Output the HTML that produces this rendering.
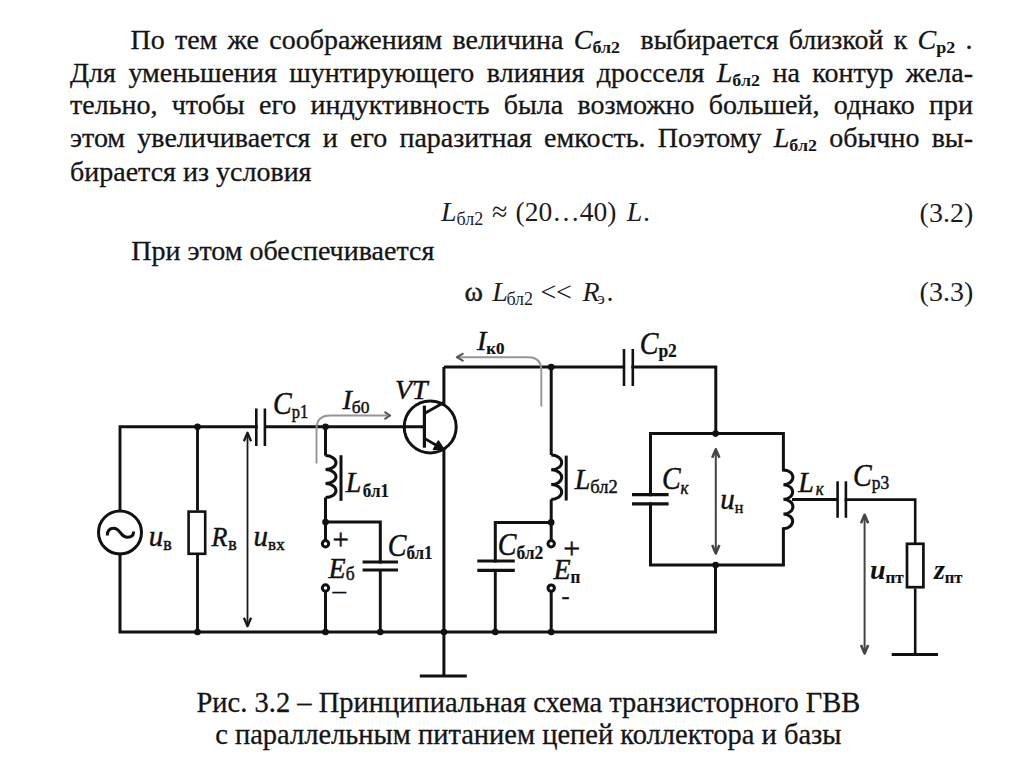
<!DOCTYPE html>
<html><head><meta charset="utf-8">
<style>
html,body{margin:0;padding:0;background:#fff;}
body{width:1024px;height:767px;position:relative;overflow:hidden;font-family:"Liberation Serif",serif;color:#151515;}
.l{position:absolute;white-space:nowrap;-webkit-text-stroke:0.3px #151515;}
.j{text-align:justify;text-align-last:justify;white-space:normal;}
i{font-style:italic;}
sub{font-size:18px;vertical-align:-4px;line-height:0;font-style:normal;font-weight:bold;-webkit-text-stroke:0;}
sub.e{font-size:17px;vertical-align:-5px;}
svg{position:absolute;left:0;top:0;}
</style></head><body>
<div class="l j" style="left:130.5px;top:25.95px;width:842px;font-size:28px;line-height:28px;transform-origin:0 23.45px;transform:scaleY(0.98)">По тем же соображениям величина <i>C</i><sub>бл2</sub> &nbsp;выбирается близкой к <i>C</i><sub>р2</sub> .</div>
<div class="l j" style="left:70px;top:58.85px;width:903px;font-size:28px;line-height:28px;transform-origin:0 23.45px;transform:scaleY(0.98)">Для уменьшения шунтирующего влияния дросселя <i>L</i><sub>бл2</sub> на контур жела-</div>
<div class="l j" style="left:70px;top:91.15px;width:903px;font-size:28px;line-height:28px;transform-origin:0 23.45px;transform:scaleY(0.98)">тельно, чтобы его индуктивность была возможно большей, однако при</div>
<div class="l j" style="left:70px;top:124.45px;width:903px;font-size:28px;line-height:28px;transform-origin:0 23.45px;transform:scaleY(0.98)">этом увеличивается и его паразитная емкость. Поэтому <i>L</i><sub>бл2</sub> обычно вы-</div>
<div class="l" style="left:70px;top:157.55px;font-size:28px;line-height:28px;transform-origin:0 23.45px;transform:scaleY(0.98)">бирается из условия</div>
<div class="l" style="left:131.2px;top:236.65px;font-size:28px;line-height:28px;transform-origin:0 23.45px;transform:scaleY(0.98)">При этом обеспечивается</div>
<div class="l" style="left:196.5px;top:688.93px;font-size:28.5px;line-height:28.5px;transform-origin:0 23.87px;transform:scaleY(1.0)">Рис. 3.2 – Принципиальная схема транзисторного ГВВ</div>
<div class="l" style="left:215.2px;top:720.73px;font-size:28.5px;line-height:28.5px;transform-origin:0 23.87px;transform:scaleY(1.0)">с параллельным питанием цепей коллектора и базы</div>
<svg width="1024" height="767" viewBox="0 0 1024 767" font-family="Liberation Serif" fill="#111"><polyline points="256.3,426.7 120,426.7 120,510.5" fill="none" stroke="#111" stroke-width="2.9" stroke-linejoin="miter" stroke-linecap="square"/>
<circle cx="120" cy="532.4" r="21.5" fill="none" stroke="#111" stroke-width="3"/>
<path d="M107.3,535.5 C107.3,529.5 110.8,528.2 113.8,528.2 C117.5,528.2 119,531 121,533.5 C123,536 125,537.3 127.5,537.3 C131,537.3 133.6,535.5 133.6,531.5" fill="none" stroke="#111" stroke-width="3"/>
<polyline points="120,554.2 120,632 715.5,632 715.5,565" fill="none" stroke="#111" stroke-width="3" stroke-linejoin="miter" stroke-linecap="square"/>
<line x1="197.5" y1="426.7" x2="197.5" y2="510.5" stroke="#111" stroke-width="2.9"/>
<rect x="188.6" y="511.6" width="16.6" height="42.2" fill="none" stroke="#111" stroke-width="2.6"/>
<line x1="197.5" y1="554.8" x2="197.5" y2="632" stroke="#111" stroke-width="2.9"/>
<circle cx="197.5" cy="426.7" r="3.3" fill="#111"/>
<circle cx="197.5" cy="632" r="3.3" fill="#111"/>
<line x1="256.3" y1="408.5" x2="256.3" y2="446" stroke="#111" stroke-width="2.6"/>
<line x1="264.9" y1="408.5" x2="264.9" y2="446" stroke="#111" stroke-width="2.6"/>
<line x1="264.9" y1="426.7" x2="424" y2="426.7" stroke="#111" stroke-width="2.9"/>
<line x1="247.5" y1="433.8" x2="247.5" y2="625.2" stroke="#1a1a1a" stroke-width="1.8"/><polyline points="243.9,441.3 247.5,432.8 251.1,441.3" fill="none" stroke="#1a1a1a" stroke-width="2.3" stroke-linejoin="round"/><polyline points="243.9,617.7 247.5,626.2 251.1,617.7" fill="none" stroke="#1a1a1a" stroke-width="2.3" stroke-linejoin="round"/>
<line x1="325.5" y1="426.7" x2="325.5" y2="455.6" stroke="#111" stroke-width="3"/>
<path d="M325.5,455.6 A10.5,7.0 0 0 1 325.5,469.60 A10.5,7.0 0 0 1 325.5,483.60 A10.5,7.0 0 0 1 325.5,497.60" fill="none" stroke="#111" stroke-width="3"/>
<line x1="325.5" y1="497.6" x2="325.5" y2="540" stroke="#111" stroke-width="3"/>
<line x1="341" y1="455.2" x2="341" y2="500.9" stroke="#111" stroke-width="3"/>
<circle cx="325.5" cy="426.7" r="3.3" fill="#111"/>
<circle cx="325.5" cy="522" r="3.3" fill="#111"/>
<polyline points="325.5,522 380.3,522 380.3,562" fill="none" stroke="#111" stroke-width="3" stroke-linejoin="miter" stroke-linecap="square"/>
<line x1="362.6" y1="562" x2="398" y2="562" stroke="#111" stroke-width="3.2"/>
<line x1="362.6" y1="570" x2="398" y2="570" stroke="#111" stroke-width="3.2"/>
<line x1="380.3" y1="570" x2="380.3" y2="632" stroke="#111" stroke-width="2.9"/>
<circle cx="325.5" cy="543.8" r="3.2" fill="#fff" stroke="#111" stroke-width="3"/>
<circle cx="325.5" cy="588" r="3.2" fill="#fff" stroke="#111" stroke-width="3"/>
<line x1="325.5" y1="591.6" x2="325.5" y2="632" stroke="#111" stroke-width="3"/>
<circle cx="325.5" cy="632" r="3.3" fill="#111"/>
<circle cx="380.3" cy="632" r="3.3" fill="#111"/>
<circle cx="443.9" cy="632" r="3.3" fill="#111"/>
<circle cx="430.2" cy="426.9" r="26" fill="none" stroke="#111" stroke-width="3"/>
<line x1="424.4" y1="405.6" x2="424.4" y2="447.7" stroke="#111" stroke-width="3.2"/>
<line x1="425.3" y1="413" x2="443.9" y2="402.5" stroke="#111" stroke-width="2.8"/>
<line x1="425.3" y1="438.9" x2="441" y2="448" stroke="#111" stroke-width="2.8"/>
<path d="M443.6,449.2 L438.4,441.2 L433.6,449.4 Z" fill="#111" stroke="#111" stroke-width="1.8" stroke-linejoin="round"/>
<line x1="443.9" y1="367" x2="443.9" y2="405.5" stroke="#111" stroke-width="3"/>
<line x1="443.9" y1="448" x2="443.9" y2="676" stroke="#111" stroke-width="3"/>
<line x1="419.8" y1="676" x2="466.8" y2="676" stroke="#111" stroke-width="3"/>
<line x1="443.9" y1="367" x2="624" y2="367" stroke="#111" stroke-width="3"/>
<line x1="624" y1="349" x2="624" y2="386" stroke="#111" stroke-width="2.6"/>
<line x1="632.8" y1="349" x2="632.8" y2="386" stroke="#111" stroke-width="2.6"/>
<polyline points="632.8,367 715.8,367 715.8,433.6" fill="none" stroke="#111" stroke-width="3" stroke-linejoin="miter" stroke-linecap="square"/>
<line x1="551.2" y1="367" x2="551.2" y2="455" stroke="#111" stroke-width="3"/>
<path d="M551.2,455 A10.5,7.399999999999996 0 0 1 551.2,469.80 A10.5,7.399999999999996 0 0 1 551.2,484.60 A10.5,7.399999999999996 0 0 1 551.2,499.40" fill="none" stroke="#111" stroke-width="3"/>
<line x1="551.2" y1="499.4" x2="551.2" y2="540" stroke="#111" stroke-width="3"/>
<line x1="566.2" y1="455.6" x2="566.2" y2="500.5" stroke="#111" stroke-width="3"/>
<circle cx="551.2" cy="367" r="3.3" fill="#111"/>
<circle cx="551.2" cy="522.4" r="3.3" fill="#111"/>
<polyline points="551.2,522.4 495.3,522.4 495.3,561" fill="none" stroke="#111" stroke-width="3" stroke-linejoin="miter" stroke-linecap="square"/>
<line x1="477.3" y1="561" x2="514.8" y2="561" stroke="#111" stroke-width="3.2"/>
<line x1="477.3" y1="570.4" x2="514.8" y2="570.4" stroke="#111" stroke-width="3.2"/>
<line x1="495.3" y1="570.4" x2="495.3" y2="632" stroke="#111" stroke-width="2.9"/>
<circle cx="551.2" cy="543.7" r="3.2" fill="#fff" stroke="#111" stroke-width="3"/>
<circle cx="551.2" cy="588.1" r="3.2" fill="#fff" stroke="#111" stroke-width="3"/>
<line x1="551.2" y1="591.7" x2="551.2" y2="632" stroke="#111" stroke-width="3"/>
<circle cx="495.3" cy="632" r="3.3" fill="#111"/>
<circle cx="551.2" cy="632" r="3.3" fill="#111"/>
<polyline points="650.5,494.7 650.5,433.6 783.4,433.6 783.4,470" fill="none" stroke="#111" stroke-width="3" stroke-linejoin="miter" stroke-linecap="square"/>
<polyline points="650.5,503.9 650.5,565 783.4,565 783.4,528.7" fill="none" stroke="#111" stroke-width="3" stroke-linejoin="miter" stroke-linecap="square"/>
<line x1="632" y1="494.7" x2="668.6" y2="494.7" stroke="#111" stroke-width="3.2"/>
<line x1="632" y1="503.9" x2="668.6" y2="503.9" stroke="#111" stroke-width="3.2"/>
<circle cx="715.6" cy="433.6" r="3.3" fill="#111"/>
<circle cx="715.6" cy="565" r="3.3" fill="#111"/>
<line x1="715.8" y1="450.2" x2="715.8" y2="552.5" stroke="#444" stroke-width="2"/><polyline points="712.1999999999999,457.7 715.8,449.2 719.4,457.7" fill="none" stroke="#444" stroke-width="2.5" stroke-linejoin="round"/><polyline points="712.1999999999999,545.0 715.8,553.5 719.4,545.0" fill="none" stroke="#444" stroke-width="2.5" stroke-linejoin="round"/>
<path d="M783.4,470 A9.5,7.337500000000006 0 0 1 783.4,484.68 A9.5,7.337500000000006 0 0 1 783.4,499.35 A9.5,7.337500000000006 0 0 1 783.4,514.03 A9.5,7.337500000000006 0 0 1 783.4,528.70" fill="none" stroke="#111" stroke-width="3"/>
<line x1="792" y1="499.4" x2="837.6" y2="499.4" stroke="#111" stroke-width="3"/>
<line x1="837.6" y1="481.3" x2="837.6" y2="517.8" stroke="#111" stroke-width="2.6"/>
<line x1="845.9" y1="481.3" x2="845.9" y2="517.8" stroke="#111" stroke-width="2.6"/>
<polyline points="845.9,499.6 915.2,499.6 915.2,542.5" fill="none" stroke="#111" stroke-width="2.6" stroke-linejoin="miter" stroke-linecap="square"/>
<rect x="907" y="543.8" width="16.4" height="43.4" fill="none" stroke="#111" stroke-width="2.7"/>
<line x1="915.2" y1="588.5" x2="915.2" y2="654.5" stroke="#111" stroke-width="2.6"/>
<line x1="891.7" y1="654.5" x2="938" y2="654.5" stroke="#111" stroke-width="3"/>
<line x1="864.6" y1="515.7" x2="864.6" y2="652.5" stroke="#444" stroke-width="2"/><polyline points="861.0,523.2 864.6,514.7 868.2,523.2" fill="none" stroke="#444" stroke-width="2.5" stroke-linejoin="round"/><polyline points="861.0,645.0 864.6,653.5 868.2,645.0" fill="none" stroke="#444" stroke-width="2.5" stroke-linejoin="round"/>
<path d="M316.5,463.5 L316.5,428.5 Q316.5,415.5 330.5,415.5 L389.5,415.5" fill="none" stroke="#959595" stroke-width="1.9"/>
<polyline points="384.5,411.8 390.2,415.5 384.5,419.2" fill="none" stroke="#555" stroke-width="2" stroke-linejoin="round"/>
<path d="M541.3,406.5 L541.3,370 Q541.3,357.2 528,357.2 L457.5,357.2" fill="none" stroke="#959595" stroke-width="1.9"/>
<polyline points="463.5,353.3 456.8,357.2 463.5,361.1" fill="none" stroke="#555" stroke-width="2" stroke-linejoin="round"/>
<text transform="translate(148.7,545.5) scale(1,1.0)" font-size="29" font-style="italic" font-weight="normal" stroke="#111" stroke-width="0.45">u<tspan dx="0" dy="4.20" font-size="18" font-style="normal" font-weight="normal" stroke-width="0.45">в</tspan></text>
<text transform="translate(211.4,545.5) scale(1,1.03)" font-size="26" font-style="italic" font-weight="normal" stroke="#111" stroke-width="0.45">R<tspan dx="1" dy="4.08" font-size="18" font-style="normal" font-weight="normal" stroke-width="0.45">в</tspan></text>
<text transform="translate(253.6,545.5) scale(1,1.0)" font-size="29" font-style="italic" font-weight="normal" stroke="#111" stroke-width="0.45">u<tspan dx="0" dy="4.70" font-size="17" font-style="normal" font-weight="normal" stroke-width="0.45">вх</tspan></text>
<text transform="translate(273,414) scale(1,1.11)" font-size="28" font-style="italic" font-weight="normal" stroke="#111" stroke-width="0.45">C<tspan dx="0" dy="3.96" font-size="16.5" font-style="normal" font-weight="normal" stroke-width="0.45">р1</tspan></text>
<text transform="translate(342.5,408.8) scale(1,1.0)" font-size="28" font-style="italic" font-weight="normal" stroke="#111" stroke-width="0.45">I<tspan dx="0" dy="3.90" font-size="17.5" font-style="normal" font-weight="normal" stroke-width="0.45">б0</tspan></text>
<text transform="translate(395,398.6) scale(1,1.0)" font-size="28" font-style="italic" font-weight="normal" stroke="#111" stroke-width="0.45">VT</text>
<text transform="translate(345.8,492.2) scale(1,1.05)" font-size="28" font-style="italic" font-weight="normal" stroke="#111" stroke-width="0.45">L<tspan dx="1.5" dy="4.48" font-size="17" font-style="normal" font-weight="bold" stroke-width="0.2">бл1</tspan></text>
<text transform="translate(387.7,555.8) scale(1,1.11)" font-size="28" font-style="italic" font-weight="normal" stroke="#111" stroke-width="0.45">C<tspan dx="0" dy="3.15" font-size="17" font-style="normal" font-weight="bold" stroke-width="0.2">бл1</tspan></text>
<text transform="translate(328.6,577.5) scale(1,1.05)" font-size="28" font-style="italic" font-weight="normal" stroke="#111" stroke-width="0.45">E<tspan dx="0" dy="2.76" font-size="17.5" font-style="normal" font-weight="normal" stroke-width="0.45">б</tspan></text>
<text x="332.5" y="548.5" font-size="29" stroke="#111" stroke-width="0.5">+</text>
<text x="332.5" y="599" font-size="27" stroke="#111" stroke-width="0.3">–</text>
<text transform="translate(477,349.6) scale(1,1.0)" font-size="28" font-style="italic" font-weight="normal" stroke="#111" stroke-width="0.45">I<tspan dx="0" dy="4.40" font-size="17" font-style="normal" font-weight="bold" stroke-width="0.2">к0</tspan></text>
<text transform="translate(574.8,488.5) scale(1,1.05)" font-size="28" font-style="italic" font-weight="normal" stroke="#111" stroke-width="0.45">L<tspan dx="0" dy="4.48" font-size="18.5" font-style="normal" font-weight="normal" stroke-width="0.45">бл2</tspan></text>
<text transform="translate(497.7,555.4) scale(1,1.11)" font-size="28" font-style="italic" font-weight="normal" stroke="#111" stroke-width="0.45">C<tspan dx="0" dy="3.51" font-size="17.5" font-style="normal" font-weight="bold" stroke-width="0.2">бл2</tspan></text>
<text transform="translate(553.4,578.8) scale(1,1.05)" font-size="28" font-style="italic" font-weight="normal" stroke="#111" stroke-width="0.45">E<tspan dx="0" dy="4.19" font-size="17" font-style="normal" font-weight="bold" stroke-width="0.2">п</tspan></text>
<text x="563.3" y="557.5" font-size="30" stroke="#111" stroke-width="0.5">+</text>
<text x="561.5" y="604" font-size="24" stroke="#111" stroke-width="0.4">-</text>
<text transform="translate(639.7,353.7) scale(1,1.11)" font-size="28" font-style="italic" font-weight="normal" stroke="#111" stroke-width="0.45">C<tspan dx="0" dy="2.88" font-size="17.5" font-style="normal" font-weight="bold" stroke-width="0.2">р2</tspan></text>
<text transform="translate(661.9,489.3) scale(1,1.11)" font-size="28" font-style="italic" font-weight="normal" stroke="#111" stroke-width="0.45">C<tspan dx="0" dy="4.41" font-size="17" font-style="italic" font-weight="normal" stroke-width="0.45">к</tspan></text>
<text transform="translate(720.2,508.8) scale(1,1.0)" font-size="29" font-style="italic" font-weight="normal" stroke="#111" stroke-width="0.45">u<tspan dx="0" dy="4.40" font-size="16" font-style="normal" font-weight="normal" stroke-width="0.45">н</tspan></text>
<text transform="translate(798.2,491.7) scale(1,1.05)" font-size="28" font-style="italic" font-weight="normal" stroke="#111" stroke-width="0.45">L<tspan dx="2" dy="3.33" font-size="17" font-style="italic" font-weight="normal" stroke-width="0.45">к</tspan></text>
<text transform="translate(853,485.9) scale(1,1.11)" font-size="28" font-style="italic" font-weight="normal" stroke="#111" stroke-width="0.45">C<tspan dx="0" dy="3.06" font-size="17.5" font-style="normal" font-weight="normal" stroke-width="0.45">р3</tspan></text>
<text transform="translate(870,578.7) scale(1,0.95)" font-size="28" font-style="italic" font-weight="bold" stroke="#111" stroke-width="0">u<tspan dx="0" dy="4.95" font-size="17" font-style="normal" font-weight="bold" stroke-width="0.2">пт</tspan></text>
<text transform="translate(933.9,578.7) scale(1,1.0)" font-size="28" font-style="italic" font-weight="bold" stroke="#111" stroke-width="0">z<tspan dx="0" dy="4.70" font-size="16.5" font-style="normal" font-weight="bold" stroke-width="0.2">пт</tspan></text>
<text x="440.9" y="221.3" font-size="28" font-style="italic" font-weight="normal" fill="#1c1c1c">L</text>
<text x="456.6" y="225.3" font-size="18" font-style="normal" font-weight="normal" fill="#1c1c1c">бл2</text>
<text x="492" y="221.3" font-size="28" font-style="normal" font-weight="normal" fill="#1c1c1c">≈</text>
<text x="515.6" y="221.3" font-size="27.5" font-style="normal" font-weight="normal" fill="#1c1c1c">(20…40)</text>
<text x="626.7" y="221.3" font-size="28" font-style="italic" font-weight="normal" fill="#1c1c1c">L</text>
<text x="642.9" y="221.3" font-size="28" font-style="normal" font-weight="normal" fill="#1c1c1c">.</text>
<text x="919.6" y="221.8" font-size="28" font-style="normal" font-weight="normal" fill="#1c1c1c">(3.2)</text>
<text x="464.4" y="300.6" font-size="28" font-style="normal" font-weight="normal" fill="#1c1c1c" stroke="#1c1c1c" stroke-width="0.5">ω</text>
<text x="492.2" y="300.6" font-size="28" font-style="italic" font-weight="normal" fill="#1c1c1c">L</text>
<text x="506.4" y="304.6" font-size="18" font-style="normal" font-weight="normal" fill="#1c1c1c">бл2</text>
<text x="540.4" y="300.6" font-size="28" font-style="normal" font-weight="normal" fill="#1c1c1c">&lt;</text>
<text x="556" y="300.6" font-size="28" font-style="normal" font-weight="normal" fill="#1c1c1c">&lt;</text>
<text x="582.5" y="300.6" font-size="28" font-style="italic" font-weight="normal" fill="#1c1c1c">R</text>
<text x="597.6" y="304.4" font-size="17" font-style="normal" font-weight="normal" fill="#1c1c1c">э</text>
<text x="606.4" y="300.6" font-size="28" font-style="normal" font-weight="normal" fill="#1c1c1c">.</text>
<text x="919.6" y="301.3" font-size="28" font-style="normal" font-weight="normal" fill="#1c1c1c">(3.3)</text></svg>
</body></html>
